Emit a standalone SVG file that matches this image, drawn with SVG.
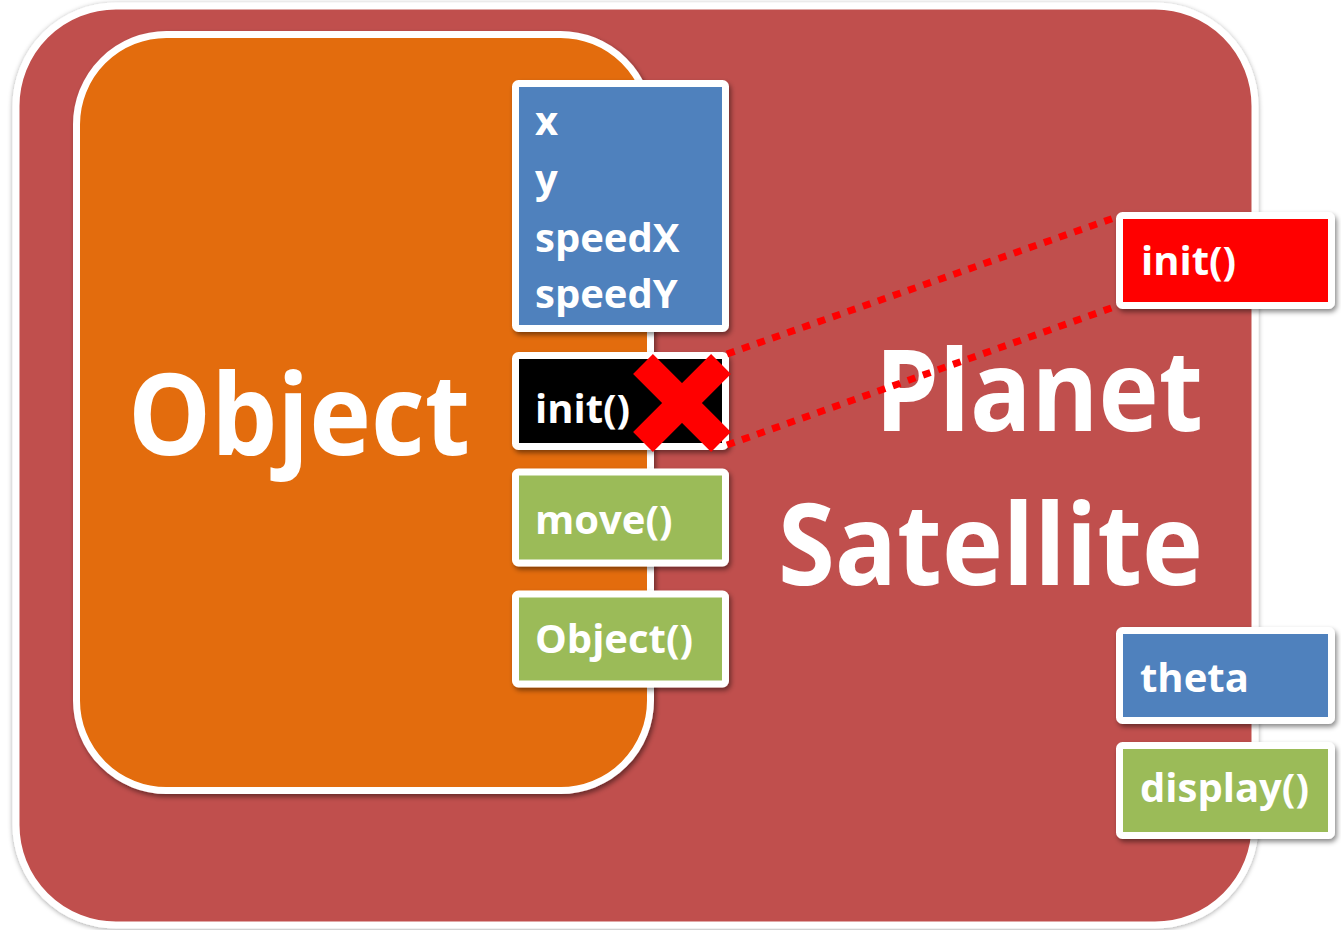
<svg xmlns="http://www.w3.org/2000/svg" width="1341" height="930" viewBox="0 0 1341 930">
  <defs>
    <filter id="glow" x="-5%" y="-5%" width="110%" height="110%">
      <feDropShadow dx="0" dy="1" stdDeviation="2.5" flood-color="#000" flood-opacity="0.35"/>
    </filter>
    <filter id="shadow" x="-10%" y="-10%" width="125%" height="130%">
      <feDropShadow dx="2" dy="3" stdDeviation="2.5" flood-color="#000" flood-opacity="0.45"/>
    </filter>
  </defs>
  <style>
    .lbl { font-family: "Open Sans", "Liberation Sans", sans-serif; font-weight: bold; fill: #FFFFFF; }
    .small { font-size: 40px; }
    .big { font-size: 113px; }
    .box { stroke: #FFFFFF; stroke-width: 7; }
    .conn { fill: none; stroke: #FF0000; stroke-width: 7; stroke-dasharray: 8 8; }
  </style>
  <rect width="1341" height="930" fill="#FFFFFF"/>

  <g id="satellite">
    <rect x="16" y="6" width="1239" height="919" rx="100" ry="100" fill="#C0504D" stroke="#FFFFFF" stroke-width="7" filter="url(#glow)"/>
    <text class="lbl big" x="1203" y="431" text-anchor="end" textLength="328" lengthAdjust="spacingAndGlyphs">Planet</text>
    <text class="lbl big" x="1203" y="585" text-anchor="end" textLength="425" lengthAdjust="spacingAndGlyphs">Satellite</text>
  </g>

  <g id="object">
    <rect x="76.5" y="34.5" width="574" height="756" rx="90" ry="90" fill="#E36C0A" stroke="#FFFFFF" stroke-width="7" filter="url(#shadow)"/>
    <text class="lbl big" x="128" y="455" textLength="342" lengthAdjust="spacingAndGlyphs">Object</text>
  </g>

  <g id="fields">
    <rect class="box" x="515.5" y="83.5" width="210" height="245" rx="3" fill="#4F81BD" filter="url(#shadow)"/>
    <text class="lbl small" x="535" y="135">x</text>
    <text class="lbl small" x="535" y="193">y</text>
    <text class="lbl small" x="535" y="252">speedX</text>
    <text class="lbl small" x="535" y="308">speedY</text>
  </g>

  <g id="init-old">
    <rect class="box" x="515.5" y="355.5" width="210" height="91" rx="3" fill="#000000" filter="url(#shadow)"/>
    <text class="lbl small" x="535" y="423">init()</text>
  </g>

  <g id="move">
    <rect class="box" x="515.5" y="472" width="210" height="91" rx="3" fill="#9BBB59" filter="url(#shadow)"/>
    <text class="lbl small" x="535" y="534">move()</text>
  </g>

  <g id="constructor">
    <rect class="box" x="515.5" y="594" width="210" height="90" rx="3" fill="#9BBB59" filter="url(#shadow)"/>
    <text class="lbl small" x="535" y="653">Object()</text>
  </g>

  <g id="cross">
    <line x1="643" y1="364" x2="721" y2="442" stroke="#FF0000" stroke-width="28"/>
    <line x1="721" y1="364" x2="643" y2="442" stroke="#FF0000" stroke-width="28"/>
  </g>

  <g id="connectors">
    <line class="conn" x1="727" y1="354" x2="1114" y2="218"/>
    <line class="conn" x1="727" y1="445" x2="1114" y2="307"/>
  </g>

  <g id="init-new">
    <rect class="box" x="1119.5" y="215.5" width="212" height="90" rx="3" fill="#FF0000" filter="url(#shadow)"/>
    <text class="lbl small" x="1141" y="275">init()</text>
  </g>

  <g id="theta">
    <rect class="box" x="1119.5" y="630.5" width="212" height="90" rx="3" fill="#4F81BD" filter="url(#shadow)"/>
    <text class="lbl small" x="1140" y="692">theta</text>
  </g>

  <g id="display">
    <rect class="box" x="1119.5" y="745.5" width="212" height="90" rx="3" fill="#9BBB59" filter="url(#shadow)"/>
    <text class="lbl small" x="1140" y="802">display()</text>
  </g>
</svg>
